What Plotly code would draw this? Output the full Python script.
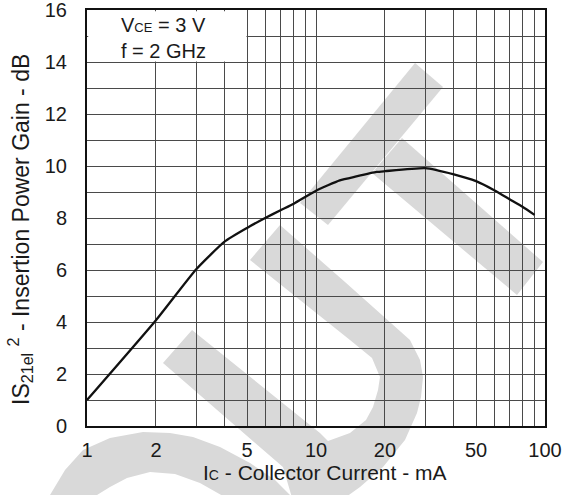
import math
import plotly.graph_objects as go

# ---- data ----
ic_ma = [1, 2, 3, 4, 5, 6, 7, 8, 10, 12.7, 15, 18.4, 20, 30, 40, 50, 60, 70, 80, 90]
gain_db = [1.0, 4.07, 6.03, 7.1, 7.62, 8.0, 8.3, 8.55, 9.05, 9.45, 9.6, 9.77, 9.8, 9.92, 9.68, 9.42, 9.07, 8.72, 8.42, 8.12]

x_grid = [1, 2, 3, 4, 5, 6, 7, 8, 9, 10, 20, 30, 40, 50, 60, 70, 80, 90, 100]
x_labels = ["1", "2", "", "", "5", "", "", "", "", "10", "20", "", "", "50", "", "", "", "", "100"]
y_grid = list(range(0, 17))
y_labels = [str(v) if v % 2 == 0 else "" for v in y_grid]

W, H = 576, 495
L, R, T, B = 87, 31, 10, 69
PX0, PX1, PY0, PY1 = L, W - R, T, H - B

def to_paper(px, py):
    return ((px - PX0) / (PX1 - PX0), (PY1 - py) / (PY1 - PY0))

def path(points):
    pts = [to_paper(x, y) for x, y in points]
    return "M " + " L ".join(f"{a:.4f},{b:.4f}" for a, b in pts) + " Z"

# watermark outlines (pixel coordinates of the reference)
wm_t_bar = [(300, 203), (328, 225), (443, 87), (415, 63)]
wm_t_stem = [(372, 173), (402, 138), (543, 262), (517, 295)]
wm_u = [(250, 260), (280, 225), (345, 282), (410, 340), (420, 360), (423, 377), (421, 397),
        (417, 413), (405, 440), (383, 467), (360, 487), (335, 505), (320, 525), (300, 525),
        (283, 467), (163, 363), (192, 330), (320, 433), (328, 441), (350, 433), (366, 420),
        (373, 407), (378, 390), (380, 377), (372, 358), (350, 340)]
wm_o = [(30, 530), (40, 510), (50, 495), (65, 470), (83, 450), (110, 438), (143, 432),
        (170, 433), (193, 437), (220, 447), (250, 463), (275, 480), (295, 500), (310, 525),
        (250, 525), (230, 500), (200, 483), (175, 474), (150, 472), (127, 478), (110, 487),
        (97, 495), (85, 515), (75, 530)]

FONT = "Liberation Sans, Arial, Helvetica, sans-serif"

fig = go.Figure()
fig.add_trace(go.Scatter(x=ic_ma, y=gain_db, mode="lines",
                         line=dict(color="#111111", width=2.3, shape="spline", smoothing=0.5),
                         hoverinfo="skip", showlegend=False))

shapes = []
for poly in (wm_t_bar, wm_t_stem, wm_u, wm_o):
    shapes.append(dict(type="path", path=path(poly), xref="paper", yref="paper",
                       fillcolor="#d9d9d9", line=dict(width=0), layer="below"))
# white box behind the condition text (inset so the frame stays visible)
shapes.append(dict(type="rect", xref="paper", yref="paper",
                   x0=1.2 / (PX1 - PX0), x1=math.log10(5) / 2 - 0.0012,
                   y0=14 / 16 + 0.0013, y1=1 - 1.2 / (PY1 - PY0),
                   fillcolor="white", line=dict(width=0), layer="above"))

ytitle_x, ytitle_y = to_paper(20, 230)
xtitle_x, xtitle_y = to_paper(325, 472)

fig.update_layout(
    width=W, height=H,
    margin=dict(l=L, r=R, t=T, b=B, autoexpand=False),
    paper_bgcolor="white", plot_bgcolor="white",
    font=dict(family=FONT, size=20, color="#1a1a1a"),
    shapes=shapes,
    annotations=[
        dict(text="V<span style='font-size:13px'>CE</span> = 3 V<br>f = 2 GHz",
             xref="paper", yref="paper", x=0.07, y=0.995,
             xanchor="left", yanchor="top", align="left", showarrow=False,
             font=dict(family=FONT, size=20, color="#1a1a1a")),
        dict(text="IS<sub>21el</sub> <sup>2</sup> - Insertion Power Gain - dB",
             xref="paper", yref="paper", x=ytitle_x, y=ytitle_y, textangle=-90,
             xanchor="center", yanchor="middle", showarrow=False,
             font=dict(family=FONT, size=23, color="#1a1a1a")),
        dict(text="I<span style='font-size:14px'>C</span> - Collector Current - mA",
             xref="paper", yref="paper", x=xtitle_x, y=xtitle_y,
             xanchor="center", yanchor="middle", showarrow=False,
             font=dict(family=FONT, size=21, color="#1a1a1a")),
    ],
    xaxis=dict(type="log", range=[0, 2], tickvals=x_grid, ticktext=x_labels,
               showgrid=True, gridcolor="#4a4a4a", gridwidth=1,
               showline=True, mirror=True, linecolor="#111111", linewidth=2,
               ticks="", ticklabelstandoff=5, zeroline=False, automargin=False,
               ticklabeloverflow="allow", tickfont=dict(size=20)),
    yaxis=dict(range=[0, 16], tickvals=y_grid, ticktext=y_labels,
               showgrid=True, gridcolor="#4a4a4a", gridwidth=1,
               showline=True, mirror=True, linecolor="#111111", linewidth=2,
               ticks="", ticklabelstandoff=14, zeroline=False, automargin=False,
               ticklabeloverflow="allow", tickfont=dict(size=20)),
)

fig.write_html("out.html", config={"displayModeBar": False},
               post_script="document.body.style.margin='0px';document.body.style.overflow='hidden';")
